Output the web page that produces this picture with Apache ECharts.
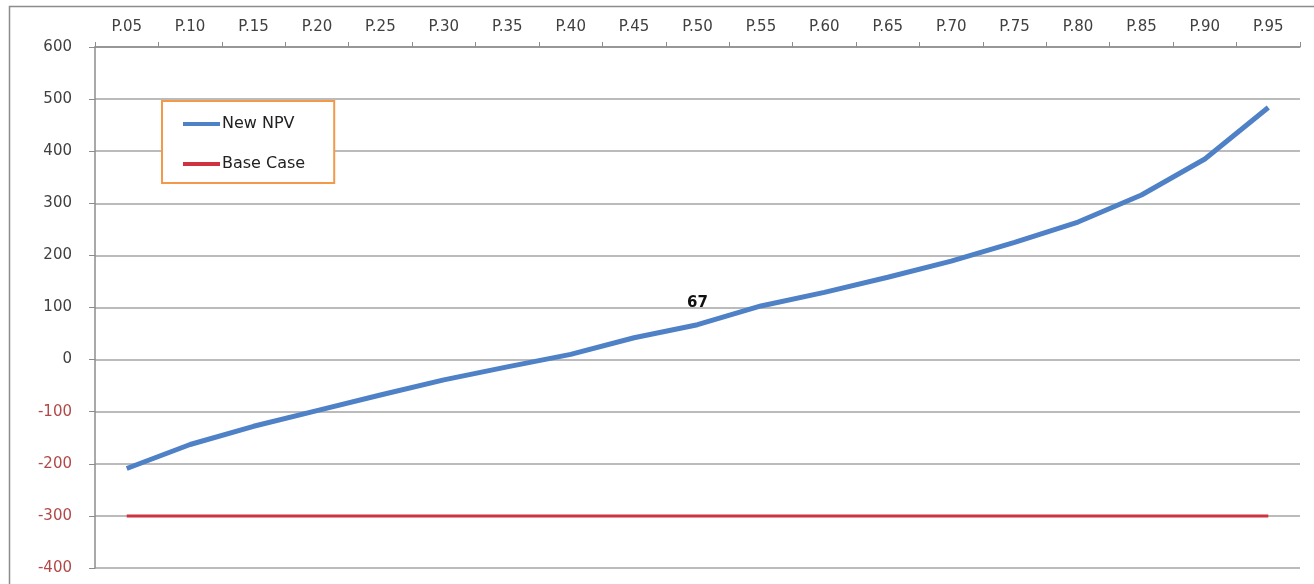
<!DOCTYPE html>
<html>
<head>
<meta charset="utf-8">
<script src="https://cdn.jsdelivr.net/npm/echarts@6/dist/echarts.min.js"></script>
<style>
html,body{margin:0;padding:0;background:#fff;}
#chart{width:1314px;height:584px;}
</style>
</head>
<body>
<div id="chart"></div>
<script>
const categories = ['P.05','P.10','P.15','P.20','P.25','P.30','P.35','P.40','P.45','P.50','P.55','P.60','P.65','P.70','P.75','P.80','P.85','P.90','P.95'];
const newNPV = [-209,-163,-128,-98,-68,-39,-14,10,42,67,103,129,158,189,225,264,316,385,484];
const baseCase = [-300,-300,-300,-300,-300,-300,-300,-300,-300,-300,-300,-300,-300,-300,-300,-300,-300,-300,-300];
const labelIndex = 9; // P.50 data label
const yMin = -400, yMax = 600, yStep = 100;

const chart = echarts.init(document.getElementById('chart'), null, {renderer:'canvas'});
const font = 'DejaVu Sans';
chart.setOption({
  backgroundColor:'#ffffff',
  animation:false,
  graphic:[{
    type:'rect', left:7, top:4, shape:{width:1330, height:600},
    style:{fill:'none', stroke:'#8c8c8c', lineWidth:1.5}, silent:true
  }],
  grid:{left:95, right:14, top:47, bottom:16, containLabel:false},
  legend:{
    orient:'vertical', left:162, top:101,
    padding:[15,29,11,21], itemGap:24,
    backgroundColor:'#ffffff', borderColor:'#f29a4a', borderWidth:2,
    icon:'rect', itemWidth:37, itemHeight:4,
    textStyle:{fontFamily:font, fontSize:16, color:'#222', padding:[0,0,0,-3]},
    data:['New NPV','Base Case']
  },
  xAxis:{
    type:'category', position:'top', data:categories,
    axisLine:{onZero:false, lineStyle:{color:'#8c8c8c', width:1.5}},
    axisTick:{show:true, length:5, lineStyle:{color:'#8c8c8c'}},
    axisLabel:{fontFamily:font, fontSize:15, color:'#404040', margin:12},
    splitLine:{show:false}
  },
  yAxis:{
    type:'value', min:yMin, max:yMax, interval:yStep,
    axisLine:{show:true, lineStyle:{color:'#8c8c8c', width:1.5}},
    axisTick:{show:true, length:6, lineStyle:{color:'#8c8c8c'}},
    axisLabel:{fontFamily:font, fontSize:15, margin:23,
      color:function(v){ return v < 0 ? '#b24848' : '#404040'; }},
    splitLine:{show:true, lineStyle:{color:'#a4a4a4', width:1.5}}
  },
  series:[
    {
      name:'New NPV', type:'line', data:newNPV,
      showSymbol:false, symbol:'none',
      lineStyle:{color:'#4f81c7', width:5},
      itemStyle:{color:'#4f81c7'},
      markPoint:{
        symbol:'rect', symbolSize:1,
        itemStyle:{color:'rgba(0,0,0,0)'},
        label:{show:true, position:'top', distance:14, fontFamily:font, fontSize:15, fontWeight:'bold', color:'#111',
          formatter:function(p){return String(newNPV[labelIndex]);}},
        data:[{coord:[labelIndex, newNPV[labelIndex]]}]
      },
      z:3
    },
    {
      name:'Base Case', type:'line', data:baseCase,
      showSymbol:false, symbol:'none',
      lineStyle:{color:'#cf3340', width:3},
      itemStyle:{color:'#cf3340'},
      z:2
    }
  ]
});
</script>
</body>
</html>
